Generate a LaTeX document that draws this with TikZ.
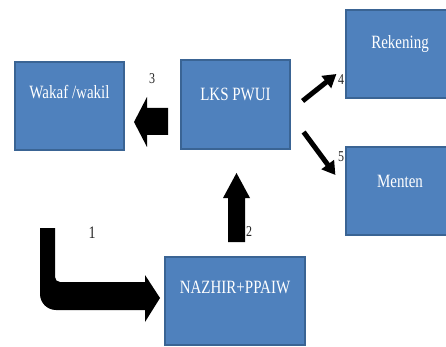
\documentclass[tikz,border=0pt]{standalone}
\usepackage{fontspec}
\setmainfont{Liberation Serif}
\usetikzlibrary{arrows.meta,calc}
\definecolor{boxblue}{HTML}{4F81BD}
\definecolor{boxedge}{HTML}{3A6494}
\newcommand\tallt[1]{\scalebox{1}[1.25]{#1}}
\tikzset{
  box/.style={draw=boxedge, fill=boxblue, line width=1.2pt, rectangle, inner sep=0pt},
  boxtext/.style={text=white, font=\fontsize{15}{15}\selectfont, inner sep=0pt, anchor=center},
  num/.style={font=\fontsize{12}{12}\selectfont, inner sep=0pt, text=black!85},
  blockarrow/.style={fill=black, draw=none},
  thinarrow/.style={line width=5pt, -{Triangle[length=13pt,width=15pt]}}
}
\begin{document}
\begin{tikzpicture}[x=1pt,y=-1pt]
\useasboundingbox (0,0) rectangle (446,347);
\clip (0,0) rectangle (446,347);
\fill[white] (0,0) rectangle (446,347);
% boxes
\node[box, minimum width=109pt, minimum height=88pt] (wakaf) at (69.5,106) {};
\node[box, minimum width=109pt, minimum height=89pt] (lks) at (235.5,104.5) {};
\node[box, minimum width=106pt, minimum height=88pt] (rek) at (399,54) {};
\node[box, minimum width=106pt, minimum height=88pt] (men) at (399,191) {};
\node[box, minimum width=140pt, minimum height=88pt] (naz) at (235,301) {};
% texts
\node[boxtext] (wakaft) at ($(wakaf.north)+(0,31)$) {\tallt{Wakaf /wakil}};
\node[boxtext] (lkst) at ($(lks.north)+(0,35)$) {\tallt{LKS PWUI}};
\node[boxtext] (rekt) at ($(rek.north)+(1,35)$) {\tallt{Rekening}};
\node[boxtext] (ment) at ($(men.north)+(1,35)$) {\tallt{Menten}};
\node[boxtext] (nazt) at ($(naz.north)+(0,31)$) {\tallt{NAZHIR+PPAIW}};
% block arrow 3 (left)
\fill[blockarrow] (168,108) -- (147,108) -- (147,97) -- (134,122) -- (147,147) -- (147,135) -- (168,135) -- cycle;
% block arrow 2 (up)
\fill[blockarrow] (228,242) -- (228,198) -- (223,198) -- (236.5,173) -- (250,198) -- (245,198) -- (245,242) -- cycle;
% bent arrow 1
\fill[blockarrow] (40,228) -- (40,294) .. controls (40,302.8) and (47.2,310) .. (56,310) -- (145,310) -- (145,322) -- (160,298) -- (145,275) -- (145,282) -- (60,282) .. controls (57.2,282) and (55,279.8) .. (55,277) -- (55,228) -- cycle;
% thin arrows 4 and 5
\draw[thinarrow] ($(lks.east)+(12,-3.5)$) -- ($(rek.west)+(-9,20)$);
\draw[thinarrow] ($(lks.east)+(13,27.5)$) -- ($(men.west)+(-10,-16)$);
% labels
\node[num] (l3) at (152,79) {\tallt{3}};
\node[num] (l4) at (341,80) {\tallt{4}};
\node[num] (l5) at (341,157) {\tallt{5}};
\node[num] (l2) at (249,232) {\tallt{2}};
\node[num, font=\fontsize{14}{14}\selectfont] (l1) at (92,233) {\tallt{1}};
\end{tikzpicture}
\end{document}
